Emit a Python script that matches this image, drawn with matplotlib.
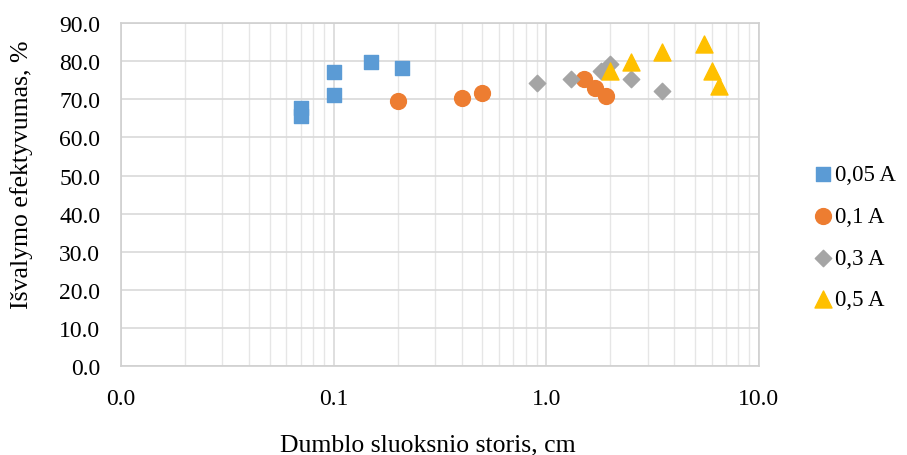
import matplotlib
matplotlib.use("Agg")
import matplotlib.pyplot as plt
from matplotlib.ticker import FixedLocator, FuncFormatter, LogLocator, NullFormatter

plt.rcParams['font.family'] = ['Liberation Serif', 'DejaVu Serif']

# thickness (cm) vs. cleaning efficiency (%) for each current
x_005 = [0.07, 0.07, 0.1, 0.1, 0.15, 0.21]
y_005 = [67.6, 65.6, 77.1, 71.2, 79.7, 78.3]

x_01 = [0.2, 0.4, 0.5, 1.5, 1.7, 1.9]
y_01 = [69.6, 70.3, 71.7, 75.3, 72.9, 70.8]

x_03 = [0.9, 1.3, 1.8, 2.0, 2.5, 3.5]
y_03 = [74.2, 75.3, 77.4, 79.3, 75.3, 72.3]

x_05 = [2.0, 2.5, 3.5, 5.5, 6.0, 6.5]
y_05 = [77.5, 79.9, 82.5, 84.5, 77.5, 73.6]

series_labels = ['0,05 A', '0,1 A', '0,3 A', '0,5 A']
x_ticks = [0.01, 0.1, 1.0, 10.0]
y_ticks = [0, 10, 20, 30, 40, 50, 60, 70, 80, 90]

fig = plt.figure(figsize=(9.07, 4.56), dpi=100)
ax = fig.add_axes([0.1334, 0.1952, 0.7034, 0.7518])

ax.scatter(x_005, y_005, marker='s', s=110, color='#5B9BD5', zorder=3, label=series_labels[0])
ax.scatter(x_01, y_01, marker='o', s=130, color='#ED7D31', zorder=3, label=series_labels[1])
ax.scatter(x_03, y_03, marker='D', s=70, color='#A5A5A5', zorder=3, label=series_labels[2])
ax.scatter(x_05, y_05, marker='^', s=150, color='#FFC000', zorder=3, label=series_labels[3])

ax.set_xscale('log')
ax.set_xlim(x_ticks[0], x_ticks[-1])
ax.set_ylim(y_ticks[0], y_ticks[-1])
ax.xaxis.set_major_locator(FixedLocator(x_ticks))
ax.xaxis.set_major_formatter(FuncFormatter(lambda v, p: f"{v:.1f}"))
ax.xaxis.set_minor_locator(LogLocator(base=10, subs=range(2, 10)))
ax.xaxis.set_minor_formatter(NullFormatter())
ax.yaxis.set_major_locator(FixedLocator(y_ticks))
ax.yaxis.set_major_formatter(FuncFormatter(lambda v, p: f"{v:.1f}"))

ax.grid(True, which='major', color='#d9d9d9', linewidth=1.2, zorder=0)
ax.grid(True, which='minor', axis='x', color='#e6e6e6', linewidth=1.0, zorder=0)
ax.set_axisbelow(True)
for side in ['top', 'right', 'left', 'bottom']:
    ax.spines[side].set_color('#d0d0d0')
    ax.spines[side].set_linewidth(1.2)
ax.tick_params(which='both', length=0, labelsize=17, colors='black')
ax.tick_params(axis='x', pad=16)
ax.tick_params(axis='y', pad=15)

# axis titles placed in figure coordinates
fig.text(428 / 907, 1 - 445 / 456, 'Dumblo sluoksnio storis, cm', fontsize=18.5,
         ha='center', va='center')
fig.text(22 / 907, 0.5 * ((456 - 47) + (456 - 303)) / 456, 'Išvalymo efektyvumas, %',
         fontsize=18.5, rotation=90, ha='center', va='center')

ax.legend(loc='center left', bbox_to_anchor=(1.062, 0.375), frameon=False,
          fontsize=16.5, handletextpad=0.0, labelspacing=0.9, borderpad=0,
          handlelength=1.1)

fig.savefig('out.png', dpi=100)
